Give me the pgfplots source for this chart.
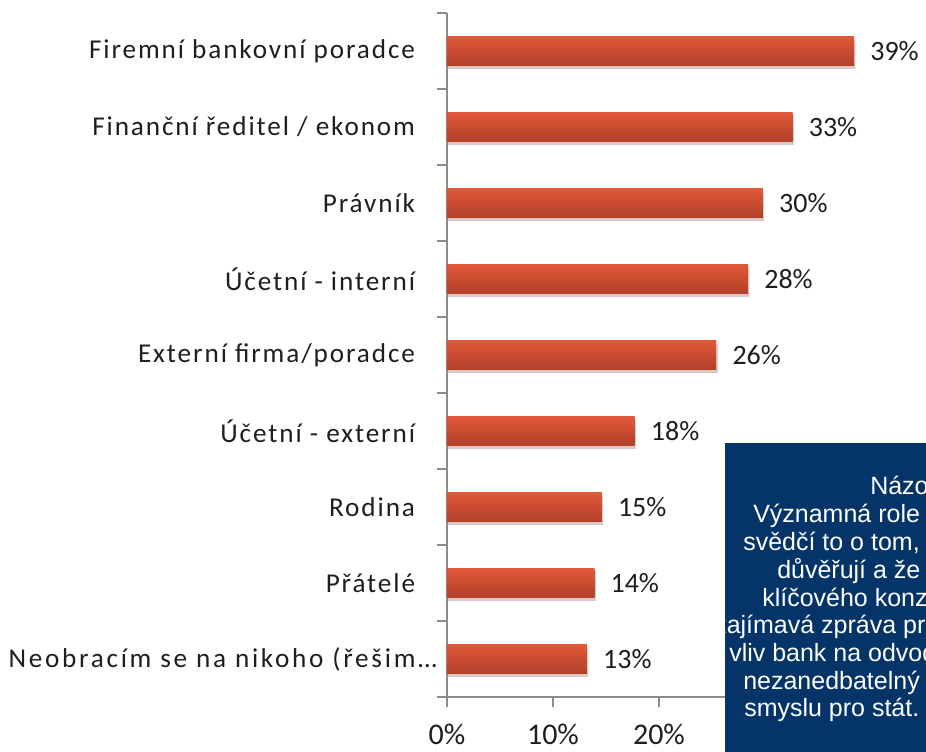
\documentclass[border=0pt]{standalone}
\usepackage{fontspec}
\setmainfont{Carlito}
\newfontfamily\catfont[LetterSpace=7]{Carlito}
\newfontfamily\catfontw[LetterSpace=10]{Carlito}
\newfontfamily\boxfont{Liberation Sans}
\usepackage{pgfplots}
\pgfplotsset{compat=1.18}
\usetikzlibrary{shadows}
\definecolor{barTop}{RGB}{226,88,58}
\definecolor{barBot}{RGB}{176,64,40}
\definecolor{navy}{RGB}{4,52,104}
\definecolor{axgray}{RGB}{140,140,140}
\definecolor{txt}{RGB}{30,30,30}
\pgfplotsset{mybar/.style={draw=none, top color=barTop, bottom color=barBot, bar shift=0pt,
  drop shadow={shadow xshift=1pt, shadow yshift=-2.5pt, fill=black, opacity=0.13}}}
\begin{document}
\begin{tikzpicture}
\useasboundingbox (0pt,0pt) rectangle (694.5pt,-563.25pt);
\clip (0pt,0pt) rectangle (694.5pt,-563.25pt);
\begin{axis}[
  at={(335.25pt,-522.75pt)}, anchor=south west,
  scale only axis, width=357.75pt, height=513pt,
  xmin=0, xmax=45, ymin=-0.5, ymax=8.5,
  axis x line*=bottom, axis y line*=left,
  axis line style={draw=axgray, line width=0.9pt},
  xtick={0,10,20,30,40},
  xticklabels={0\%,10\%,20\%,30\%,40\%},
  ytick={0,...,8},
  yticklabels={{\catfontw Neobracím se na nikoho (řešim…}\hspace*{-16.5pt},Přátelé,Rodina,Účetní - externí,Externí firma/poradce,Účetní - interní,Právník,Finanční ředitel / ekonom,Firemní bankovní poradce},
  minor ytick={-0.5,0.5,...,8.5},
  tick align=outside,
  major tick length=7.5pt, minor tick length=7.5pt,
  tick style={draw=axgray, line width=0.9pt},
  major y tick style={draw=none},
  xticklabel style={font=\fontsize{22.5pt}{27pt}\selectfont, text=txt, inner sep=0pt, anchor=north, yshift=-12.75pt},
  yticklabel style={font=\catfont\fontsize{20.4pt}{24pt}\selectfont, text=txt, inner sep=0pt, anchor=east, xshift=-16.25pt},
  xbar, bar width=21.75pt,
  nodes near coords, point meta=explicit symbolic,
  every node near coord/.append style={font=\fontsize{21pt}{25pt}\selectfont, text=txt, anchor=west, inner sep=0pt, xshift=12pt},
]
\addplot[mybar] coordinates {(13.2,0) [13\%]};
\addplot[mybar] coordinates {(13.9,1) [14\%]};
\addplot[mybar] coordinates {(14.6,2) [15\%]};
\addplot[mybar] coordinates {(17.7,3) [18\%]};
\addplot[mybar] coordinates {(25.4,4) [26\%]};
\addplot[mybar] coordinates {(28.4,5) [28\%]};
\addplot[mybar] coordinates {(29.8,6) [30\%]};
\addplot[mybar] coordinates {(32.6,7) [33\%]};
\addplot[mybar] coordinates {(38.4,8) [39\%]};
\end{axis}
\begin{scope}[x=0.75pt,y=-0.75pt]
\fill[navy] (725,443) rectangle (940,760);
\begin{scope}[every node/.style={anchor=base west, inner sep=0pt, text=white, font=\boxfont\fontsize{18.75pt}{22pt}\selectfont}]
\node at (870,494) {Názor};
\node at (753,522) {Významná role b};
\node at (743,550) {svědčí to o tom, že};
\node at (777,578) {důvěřují a že j};
\node at (762,606) {klíčového konzultanta};
\node at (714,633) {zajímavá zpráva pro};
\node at (729,661) {vliv bank na odvod};
\node at (743,689) {nezanedbatelný};
\node at (744,716) {smyslu pro stát.};
\end{scope}
\end{scope}
\end{tikzpicture}
\end{document}
